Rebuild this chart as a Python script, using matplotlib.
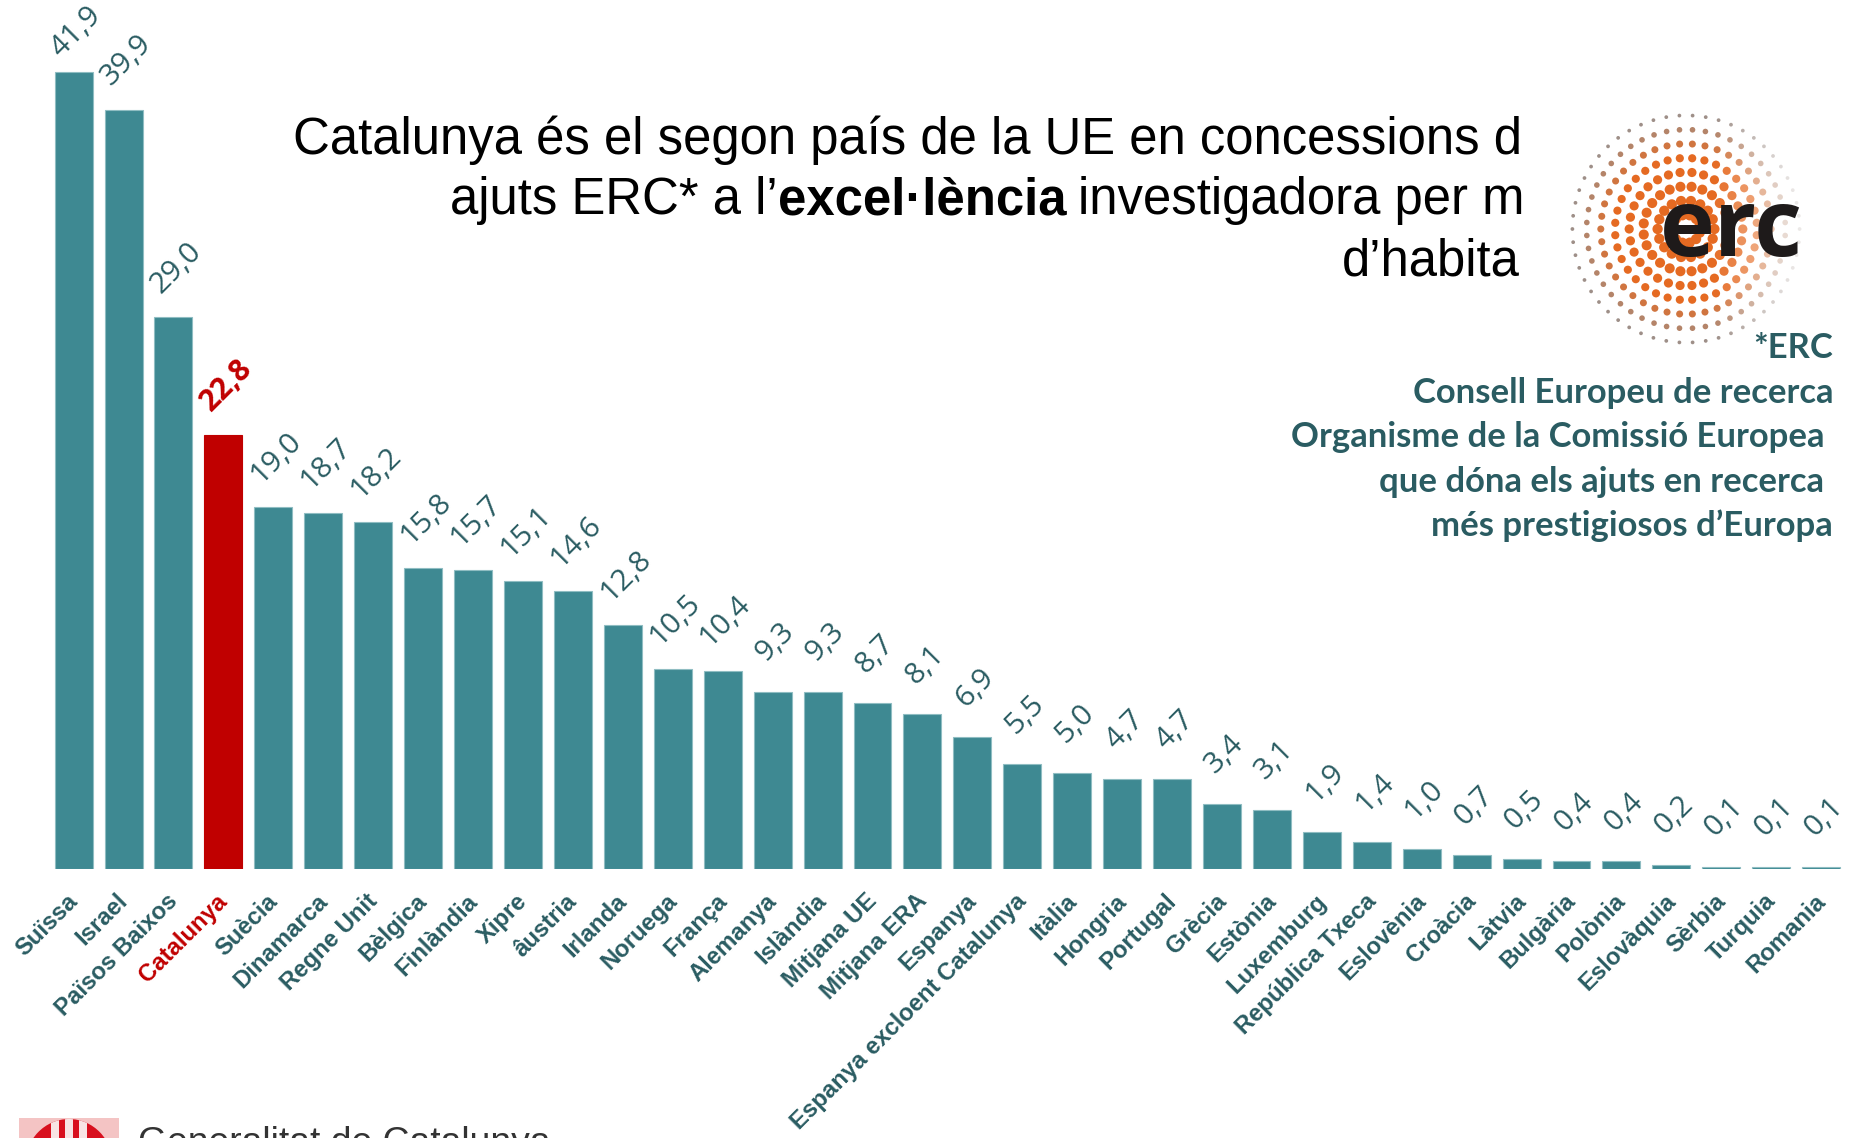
import numpy as np
import matplotlib
matplotlib.use("Agg")
import matplotlib.pyplot as plt
from matplotlib.colors import to_rgb
from matplotlib.patches import Ellipse, Rectangle
from matplotlib.transforms import ScaledTranslation

W, H = 1851, 1138

# Dades del grafic
paisos = ["Suïssa", "Israel", "Països Baixos", "Catalunya", "Suècia", "Dinamarca", "Regne Unit",
          "Bèlgica", "Finlàndia", "Xipre", "âustria", "Irlanda", "Noruega", "França", "Alemanya",
          "Islàndia", "Mitjana UE", "Mitjana ERA", "Espanya", "Espanya excloent Catalunya", "Itàlia",
          "Hongria", "Portugal", "Grècia", "Estònia", "Luxemburg", "República Txeca", "Eslovènia",
          "Croàcia", "Làtvia", "Bulgària", "Polònia", "Eslovàquia", "Sèrbia", "Turquia", "Romania"]
valors = [41.9, 39.9, 29.0, 22.8, 19.0, 18.7, 18.2, 15.8, 15.7, 15.1, 14.6, 12.8, 10.5, 10.4, 9.3,
          9.3, 8.7, 8.1, 6.9, 5.5, 5.0, 4.7, 4.7, 3.4, 3.1, 1.9, 1.4, 1.0, 0.7, 0.5, 0.4, 0.4,
          0.2, 0.1, 0.1, 0.1]
notes_erc = ["*ERC", "Consell Europeu de recerca", "Organisme de la Comissió Europea",
             "que dóna els ajuts en recerca", "més prestigiosos d’Europa"]

TEAL = "#3E8992"
VORA = "#8FBDC2"
FOSC = "#2A5C62"
VERMELL = "#C00000"

fig = plt.figure(figsize=(W / 100, H / 100), dpi=100)

# eix principal: base de les barres a y=868.5 px, 19.02 px per unitat
base_px = 868.5
ax = fig.add_axes([0, (H - base_px) / H, 1, base_px / H])
ax.set_xlim(-73.6 / 49.93, (W - 73.6) / 49.93)
ax.set_ylim(0, base_px / 19.02)
x = np.arange(len(valors))
colors = [VERMELL if p == "Catalunya" else TEAL for p in paisos]
vores = [VERMELL if p == "Catalunya" else VORA for p in paisos]
ax.bar(x, valors, width=0.76, color=colors, edgecolor=vores, linewidth=0.8)

ax.set_xticks(x)
ax.set_xticklabels(paisos, rotation=45, ha="right", va="center", rotation_mode="anchor",
                   fontsize=17.2, fontweight="bold", family="Liberation Sans", color=FOSC)
ax.tick_params(axis="x", length=0, pad=21)
desp = ScaledTranslation(0.5 / 72, 0, fig.dpi_scale_trans)
for lab in ax.get_xticklabels():
    lab.set_transform(lab.get_transform() + desp)
ax.get_xticklabels()[3].set_color(VERMELL)
ax.set_yticks([])
for s in ax.spines.values():
    s.set_visible(False)

for i, v in enumerate(valors):
    es_cat = paisos[i] == "Catalunya"
    dy = 28.5 if i == 0 else 35.5
    ax.annotate(f"{v:.1f}".replace(".", ","), (i, v), xytext=(2, dy), textcoords="offset points",
                rotation=45, ha="center", va="center", fontsize=21.5, family="Open Sans",
                fontweight="bold" if es_cat else "normal", color=VERMELL if es_cat else FOSC)

# capa en pixels per a titol, logos i notes
ov = fig.add_axes([0, 0, 1, 1], zorder=5)
ov.set_xlim(0, W)
ov.set_ylim(H, 0)
ov.axis("off")
ov.patch.set_alpha(0)

t_kw = dict(fontsize=36.6, family="Liberation Sans", color="black", va="baseline")
ov.text(1522, 154, "Catalunya és el segon país de la UE en concessions d", ha="right", **t_kw)
rend = fig.canvas.get_renderer()
cur = 450
for tros, pes, gap in [("ajuts ERC* a l’", "normal", 0), ("excel·lència", "bold", 12), ("investigadora per m", "normal", 0)]:
    t = ov.text(cur, 214, tros, ha="left", fontweight=pes, **t_kw)
    cur = t.get_window_extent(rend).x1 + gap
ov.text(1520, 275, "d’habita", ha="right", **t_kw)

# logo ERC: anells de punts
cx, cy = 1686, 229
punts = []
for k in range(1, 9):
    n = 6 + 6 * k
    ang = np.arange(n) * 2 * np.pi / n + (k % 2) * np.pi / n
    punts.append(np.c_[cx + 14.2 * k * np.cos(ang), cy + 14.2 * k * np.sin(ang)])
punts = np.vstack(punts)
r = np.hypot(punts[:, 0] - cx, punts[:, 1] - cy)
mides = np.clip(80 * (1 - r / 125), 4, 55)
tarong = np.array(to_rgb("#E56A22"))
gris = np.array(to_rgb("#9E8F88"))
barreja = np.clip((r - 75) / 35, 0, 1)[:, None]
rgba = np.c_[tarong * (1 - barreja) + gris * barreja,
             np.clip(1.0 - np.clip(punts[:, 0] - 1715, 0, None) / 100, 0.2, 1)]
ov.scatter(punts[:, 0], punts[:, 1], s=mides, c=rgba, linewidths=0, zorder=2)
ov.text(1731, 256, "erc", ha="center", va="baseline", fontsize=67, family="Open Sans", fontweight="bold",
        color="#1E1A1A", zorder=3)

# text de la nota
for lin, y, xd in zip(notes_erc, [358, 403, 447, 492, 536], [1833, 1833, 1824, 1824, 1833]):
    ov.text(xd, y, lin, ha="right", va="baseline", fontsize=24.9, family="Lato", fontweight="bold", color=FOSC)

# logo Generalitat, tallat per la vora inferior
ov.add_patch(Rectangle((19, 1118), 100, 24, color="#F4C4C4", lw=0))
escut = Ellipse((69, 1165), 88, 92, color="#D8101E", lw=0)
ov.add_patch(escut)
for xs in [55, 69, 83]:
    ratlla = Rectangle((xs - 4, 1115), 8, 30, color="#F8E4E4", lw=0)
    ov.add_patch(ratlla)
    ratlla.set_clip_path(escut)
ov.text(138, 1153, "Generalitat de Catalunya", ha="left", va="baseline", fontsize=26.8,
        family="Liberation Sans", color="#333333")

fig.savefig("out.png", dpi=100)
